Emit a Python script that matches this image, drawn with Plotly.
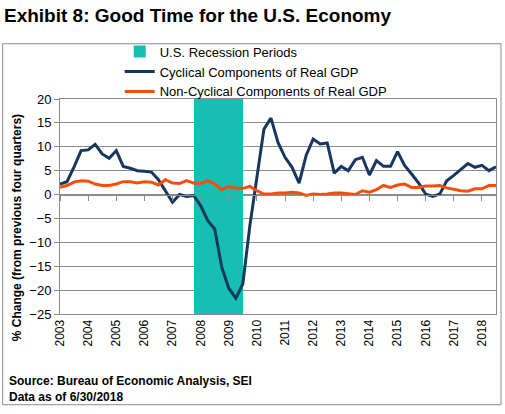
import plotly.graph_objects as go

years = list(range(2003, 2019))
quarters = [f"{y}Q{q}" for y in years for q in (1, 2, 3, 4)][:63]
year_labels = [str(y) for y in years]

cyclical = [2.2, 2.7, 5.8, 9.2, 9.35, 10.5, 8.5, 7.6, 9.2, 5.9, 5.5, 5.0, 4.9, 4.7, 3.1, 0.8,
            -1.6, 0.0, -0.4, -0.2, -2.3, -5.4, -7.2, -15.2, -19.6, -21.7, -18.7, -6.5, 3.5, 13.7,
            16.0, 10.9, 7.8, 5.7, 2.4, 8.2, 11.6, 10.6, 10.8, 4.5, 5.9, 5.0, 7.3, 7.8, 4.1, 7.1,
            5.9, 5.9, 9.0, 6.1, 4.3, 2.4, 0.1, -0.4, 0.1, 2.9, 4.0, 5.2, 6.5, 5.7, 6.1, 5.0, 5.8]
non_cyclical = [1.5, 1.9, 2.6, 2.9, 2.8, 2.2, 1.9, 1.9, 2.2, 2.7, 2.7, 2.4, 2.7, 2.6, 2.0, 3.1,
                2.4, 2.3, 2.9, 2.4, 2.3, 2.9, 2.2, 1.0, 1.7, 1.3, 1.3, 1.7, 0.8, 0.1, 0.1, 0.35,
                0.35, 0.5, 0.35, -0.2, 0.1, 0.0, 0.1, 0.3, 0.3, 0.1, 0.0, 0.8, 0.5, 1.05, 1.9,
                1.5, 2.0, 2.2, 1.5, 1.5, 1.8, 1.8, 1.9, 1.4, 1.05, 0.8, 0.7, 1.2, 1.2, 1.9, 1.9]
recession_quarters = ["2007Q4", "2008Q1", "2008Q2", "2008Q3", "2008Q4", "2009Q1", "2009Q2"]
y_range = [-25, 20]
y_ticks = list(range(-25, 21, 5))

FONT = "Arial, 'Liberation Sans', sans-serif"
GRID = "#8c8c8c"
TEAL = "#16bfb1"
NAVY = "#17375e"
ORANGE = "#f2500a"

year_ticks = [q for q in quarters if q.endswith("Q1")]

fig = go.Figure()
fig.add_trace(go.Bar(
    x=recession_quarters,
    y=[y_range[1] - y_range[0]] * len(recession_quarters),
    base=y_range[0],
    width=1, offset=0,
    marker=dict(color=TEAL, line=dict(width=0)),
    name="U.S. Recession Periods",
    xaxis="x", yaxis="y",
))
fig.add_trace(go.Scatter(
    x=quarters, y=cyclical, mode="lines",
    line=dict(color=NAVY, width=3),
    name="Cyclical Components of Real GDP",
    xaxis="x2", yaxis="y",
))
fig.add_trace(go.Scatter(
    x=quarters, y=non_cyclical, mode="lines",
    line=dict(color=ORANGE, width=3),
    name="Non-Cyclical Components of Real GDP",
    xaxis="x2", yaxis="y",
))

zero_pos = (0 - y_range[0]) / (y_range[1] - y_range[0])

fig.update_layout(
    width=505, height=414,
    margin=dict(l=60, r=9, t=99, b=100, autoexpand=False),
    paper_bgcolor="white", plot_bgcolor="white",
    font=dict(family=FONT, size=13, color="black"),
    title=dict(text="<b>Exhibit 8: Good Time for the U.S. Economy</b>",
               font=dict(family=FONT, size=19, color="black"),
               xref="container", yref="container", x=4 / 505, xanchor="left",
               y=1 - 15 / 414, yanchor="middle"),
    showlegend=True,
    legend=dict(x=0.137, y=1.29, xanchor="left", yanchor="top",
                bgcolor="rgba(0,0,0,0)", font=dict(family=FONT, size=13),
                traceorder="normal", tracegroupgap=0),
    bargap=0,
    xaxis=dict(
        type="category", categoryorder="array", categoryarray=quarters,
        range=[0, len(quarters) - 1],
        tickmode="array", tickvals=year_ticks, ticktext=year_labels,
        tickangle=-90, ticks="", tickfont=dict(size=12),
        showgrid=False, showline=True, linecolor=GRID, linewidth=1, mirror=True,
        zeroline=False,
    ),
    xaxis2=dict(
        type="category", overlaying="x", matches="x",
        anchor="free", position=zero_pos, side="bottom",
        categoryorder="array", categoryarray=quarters,
        tickmode="array", tickvals=year_ticks, showticklabels=False,
        ticks="outside", ticklen=5, tickcolor=GRID, tickwidth=1,
        showgrid=False, showline=True, linecolor=GRID, linewidth=1,
        zeroline=False,
    ),
    yaxis=dict(
        range=y_range, tickmode="array", tickvals=y_ticks,
        ticks="outside", ticklen=5, tickcolor=GRID,
        showgrid=True, gridcolor=GRID, gridwidth=1,
        showline=True, linecolor=GRID, linewidth=1, mirror=True,
        zeroline=False, tickfont=dict(size=13),
    ),
    annotations=[
        dict(text="<b>% Change (from previous four quarters)</b>", textangle=-90,
             xref="paper", yref="paper", x=-0.098, y=0.40,
             xanchor="center", yanchor="middle", showarrow=False,
             font=dict(family=FONT, size=12)),
        dict(text="<b>Source: Bureau of Economic Analysis, SEI<br>Data as of 6/30/2018</b>",
             xref="paper", yref="paper", x=-0.1216, y=-0.35,
             xanchor="left", yanchor="middle", align="left", showarrow=False,
             font=dict(family=FONT, size=12)),
    ],
    shapes=[
        dict(type="rect", xref="paper", yref="paper",
             x0=-0.1315, x1=1.0115, y0=-0.422, y1=1.257,
             line=dict(color=GRID, width=1), fillcolor="rgba(0,0,0,0)", layer="below"),
    ],
)

fig.write_html("out.html",
               config={"displayModeBar": False},
               post_script="document.body.style.margin='0';document.body.style.overflow='hidden';")
